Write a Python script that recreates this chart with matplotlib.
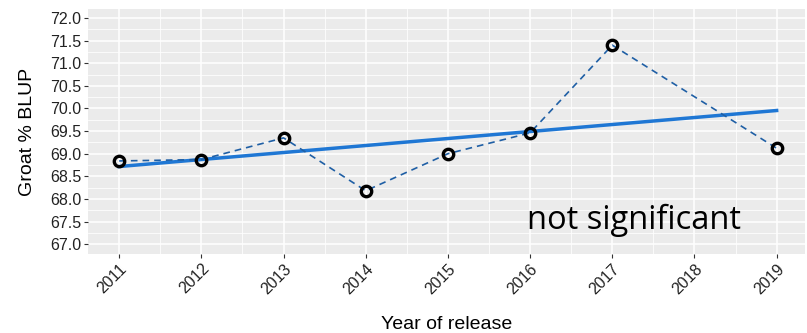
import numpy as np
import matplotlib
matplotlib.use('Agg')
import matplotlib.pyplot as plt
from matplotlib.ticker import MultipleLocator

years = [2011, 2012, 2013, 2014, 2015, 2016, 2017, 2019]
groat = [68.84, 68.87, 69.35, 68.18, 69.00, 69.46, 71.40, 69.12]
tick_years = [2011, 2012, 2013, 2014, 2015, 2016, 2017, 2018, 2019]

plt.rcParams['font.family'] = ['Liberation Sans', 'DejaVu Sans']

fig = plt.figure(figsize=(8.07, 3.33), dpi=100)
ax = fig.add_axes([0.109, 0.237, 0.888, 0.736])
ax.set_facecolor('#ebebeb')
for s in ax.spines.values():
    s.set_visible(False)

ax.set_xlim(2010.62, 2019.34)
ax.set_ylim(66.78, 72.2)
ax.set_xticks(tick_years)
ax.set_xticklabels([str(y) for y in tick_years], rotation=45, ha='right',
                   va='top', rotation_mode='anchor')
ax.yaxis.set_major_locator(MultipleLocator(0.5))
ax.yaxis.set_major_formatter(matplotlib.ticker.FormatStrFormatter('%.1f'))
ax.xaxis.set_minor_locator(MultipleLocator(0.5))
ax.yaxis.set_minor_locator(MultipleLocator(0.25))
ax.grid(True, which='major', color='white', linewidth=1.1)
ax.grid(True, which='minor', color='white', linewidth=0.55)
ax.set_axisbelow(True)
ax.tick_params(which='major', length=3, color='#333333', labelcolor='#222222',
               labelsize=11.5, pad=2)
ax.tick_params(which='minor', length=0)

# fitted trend
p = np.polyfit(years, groat, 1)
xf = np.array([years[0], years[-1]])
ax.plot(xf, np.polyval(p, xf), color='#1f77d4', linewidth=2.5, zorder=3)

ax.plot(years, groat, linestyle='--', color='#1f5fa5', linewidth=1.2,
        dashes=(4, 3), zorder=4)
ax.plot(years, groat, linestyle='none', marker='o', markersize=7.5,
        markerfacecolor='none', markeredgecolor='black', markeredgewidth=2.4,
        zorder=5)

ax.text(2015.96, 67.33, 'not significant', fontsize=23.5, family='Open Sans',
        color='black', va='baseline', ha='left', zorder=6)

ax.set_xlabel('Year of release', fontsize=14, color='black', labelpad=14)
ax.set_ylabel('Groat % BLUP', fontsize=14, color='black', labelpad=10)

fig.savefig('out.png', dpi=100)
